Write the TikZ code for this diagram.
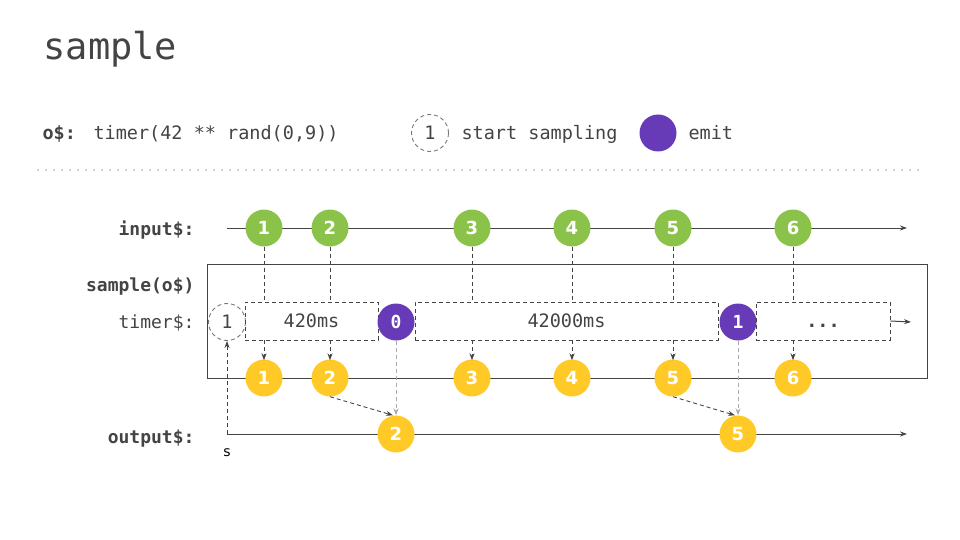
\documentclass[tikz,border=0pt]{standalone}
\usepackage{fontspec}
\setmainfont{DejaVu Sans}
\setsansfont{DejaVu Sans}
\setmonofont{DejaVu Sans Mono}
\usetikzlibrary{arrows.meta}
\definecolor{txt}{HTML}{444444}
\definecolor{ln}{HTML}{444444}
\definecolor{grn}{HTML}{8BC34A}
\definecolor{ylw}{HTML}{FFCA28}
\definecolor{prp}{HTML}{673AB7}
\definecolor{dotc}{HTML}{BBBBBB}
\definecolor{lgray}{HTML}{AAAAAA}
\definecolor{cgray}{HTML}{777777}
\begin{document}
\begin{tikzpicture}[x=1pt,y=-1pt,
  every node/.style={text=txt},
  mono/.style={font=\ttfamily\fontsize{18.5}{20}\selectfont},
  marble/.style={circle,minimum size=37pt,inner sep=0pt,text=white,font=\sffamily\bfseries\fontsize{18}{19}\selectfont},
  gm/.style={marble,fill=grn},
  ym/.style={marble,fill=ylw},
  pm/.style={marble,fill=prp,font=\ttfamily\bfseries\fontsize{18}{19}\selectfont},
  dsh/.style={dash pattern=on 4pt off 3pt},
  startc/.style={circle,minimum size=37pt,inner sep=0pt,draw=cgray,dsh,line width=0.9pt,mono,text=txt},
  tbox/.style={rectangle,draw=ln,dsh,line width=0.9pt,minimum height=38pt,inner sep=0pt,text height=16pt,text depth=3pt,mono},
  lbl/.style={anchor=base east,font=\ttfamily\bfseries\fontsize{18}{19}\selectfont},
  tip/.style={-{Stealth[length=7pt,width=5pt]}},
  axis/.style={draw=ln,line width=1pt},
  conn/.style={ln,line width=0.9pt,dsh,tip},
]
\useasboundingbox (0,0) rectangle (960,540);
% title and legend
\node[anchor=base west,font=\ttfamily\fontsize{37}{40}\selectfont] (title) at (40,60) {sample};
\node[anchor=base west,font=\ttfamily\bfseries\fontsize{18.5}{20}\selectfont] (olbl) at (39,140) {o\$:};
\node[anchor=base west,mono] (odef) at (90,140) {timer(42 ** rand(0,9))};
\node[startc] (legs) at (430,133) {1};
\node[anchor=base west,mono] (legst) at (458,140) {start sampling};
\node[pm] (lege) at (658,133) {};
\node[anchor=base west,mono] (legem) at (685,140) {emit};
% dotted separator
\foreach \i in {0,...,110} {\fill[dotc] (38+8*\i,170) circle (1pt);}
% labels
\node[lbl] (linp) at (198,235) {input\$:};
\node[lbl] (lsam) at (198,291) {sample(o\$)};
\node[lbl,font=\ttfamily\fontsize{18}{19}\selectfont] (ltim) at (198,328) {timer\$:};
\node[lbl] (lout) at (198,443) {output\$:};
% operator box
\draw[axis] (207,264) rectangle (927,378);
% input line
\coordinate (ia) at (227,228);
\coordinate (ib) at (907,228);
\draw[axis,tip] (ia) -- (ib);
% output line
\coordinate (oa) at (227,434);
\coordinate (ob) at (907,434);
\draw[axis,tip] (oa) -- (ob);
% timer row
\node[startc] (s1) at (227,322) {1};
\node[tbox,minimum width=133pt] (r1) at (311.5,321) {420ms};
\node[pm] (p0) at (396,322) {0};
\node[tbox,minimum width=303pt] (r2) at (566.5,321) {42000ms};
\node[pm] (p1) at (738,322) {1};
\node[tbox,minimum width=134pt,font=\ttfamily\bfseries\fontsize{18.5}{20}\selectfont] (r3) at (823,321) {...};
\coordinate (tend) at (911,322);
\draw[ln,line width=1pt,tip] (r3.east) -- (tend);
% marbles
\node[gm] (g1) at (264,228) {1};
\node[gm] (g2) at (330,228) {2};
\node[gm] (g3) at (472,228) {3};
\node[gm] (g4) at (572,228) {4};
\node[gm] (g5) at (673,228) {5};
\node[gm] (g6) at (793,228) {6};
\node[ym] (y1) at (264,378) {1};
\node[ym] (y2) at (330,378) {2};
\node[ym] (y3) at (472,378) {3};
\node[ym] (y4) at (572,378) {4};
\node[ym] (y5) at (673,378) {5};
\node[ym] (y6) at (793,378) {6};
\node[ym] (o2) at (396,434) {2};
\node[ym] (o5) at (738,434) {5};
% input to timer boxes
\foreach \g/\r in {g1/r1,g2/r1,g3/r2,g4/r2,g5/r2,g6/r3} {
  \draw[ln,line width=0.9pt,dsh] (\g.south) -- (\g.south |- \r.north);
}
\foreach \y/\r in {y1/r1,y2/r1,y3/r2,y4/r2,y5/r2,y6/r3} {
  \draw[conn] (\y.north |- \r.south) -- ([yshift=-1pt]\y.north);
}
% sampling to output
\draw[conn] (y2.south) -- ([xshift=-3pt]o2.north);
\draw[conn] (y5.south) -- ([xshift=-3pt]o5.north);
\draw[conn,draw=lgray] (p0.south) -- (o2.north);
\draw[conn,draw=lgray] (p1.south) -- (o5.north);
% start sampling
\draw[conn] (oa) -- (s1.south);
\node[anchor=base,font=\sffamily\fontsize{14}{15}\selectfont,text=black] (slbl) at (227,456) {s};
\end{tikzpicture}
\end{document}
